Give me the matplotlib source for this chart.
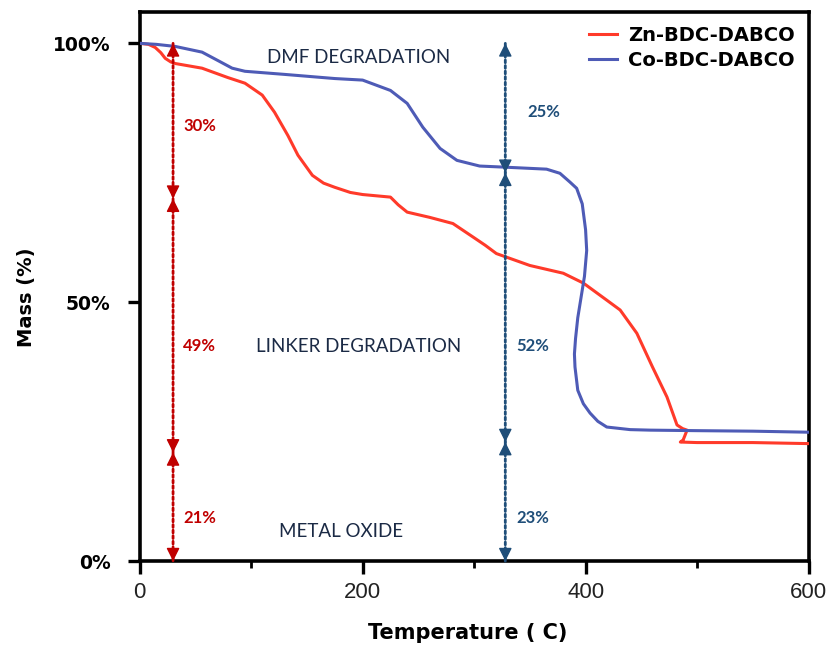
import matplotlib
matplotlib.use("Agg")
import matplotlib.pyplot as plt
from matplotlib.ticker import MultipleLocator

# ---- data ----
zn_temp = [0, 8, 14, 19, 23, 28, 32, 56, 79, 94.5, 110, 121, 133, 142, 155, 165, 175,
           189, 200, 225, 232, 240, 260, 281, 299, 310, 320, 350, 380, 398, 419, 431,
           446, 460, 473, 482, 487, 491, 489, 487.5, 485, 500, 550, 600]
zn_mass = [100, 99.8, 99.2, 98.2, 97.1, 96.4, 96.1, 95.2, 93.4, 92.3, 90, 86.7, 82.2,
           78.4, 74.5, 73, 72.2, 71.2, 70.8, 70.3, 68.8, 67.4, 66.4, 65.2, 62.6, 61,
           59.4, 57.1, 55.6, 53.7, 50.4, 48.5, 44, 37.5, 31.7, 26.3, 25.6, 25.3, 24.2,
           23.4, 23, 22.9, 22.9, 22.7]

co_temp = [0, 15, 32, 56, 70, 83, 94.5, 130, 175, 200, 225, 240, 254, 269.5, 284.6,
           305, 326, 365, 377, 386, 392, 397, 400, 401, 399, 396, 393, 391, 390, 390.5,
           393, 398, 404, 411, 419, 440, 458, 500, 550, 600]
co_mass = [100, 99.8, 99.4, 98.3, 96.7, 95.2, 94.6, 94, 93.2, 92.9, 90.9, 88.4, 83.8,
           79.7, 77.4, 76.3, 76.1, 75.7, 74.9, 73.2, 72, 69, 64, 60, 55, 51, 47, 43, 40,
           37.5, 33, 30.4, 28.6, 27, 25.9, 25.4, 25.3, 25.2, 25.1, 24.9]

series_names = ["Zn-BDC-DABCO", "Co-BDC-DABCO"]

# stage boundaries for the measurement arrows
zn_arrow_x = 30
zn_bounds = [100, 70, 21, 0]
zn_labels = ["30%", "49%", "21%"]
zn_label_y = [84, 41.5, 8.3]
co_arrow_x = 328
co_bounds = [100, 75, 23, 0]
co_labels = ["25%", "52%", "23%"]
co_label_x = [348, 338, 338]
co_label_y = [86.7, 41.5, 8.3]

stage_names = ["DMF DEGRADATION", "LINKER DEGRADATION", "METAL OXIDE"]
stage_x = [196, 196, 181]
stage_y = [97.3, 41.5, 5.8]

x_ticks = [0, 200, 400, 600]
y_ticks = [0, 50, 100]
y_ticklabels = ["0%", "50%", "100%"]

# ---- figure ----
RED = "#FF3A2A"
BLUE = "#4E5BB6"
DARKRED = "#C00000"
DARKBLUE = "#1F4E79"
TXT = "#1B2A45"

fig = plt.figure(figsize=(8.31, 6.45), dpi=100)
ax = fig.add_axes([0.168, 0.130, 0.805, 0.851])

ax.plot(zn_temp, zn_mass, color=RED, lw=2.2, label=series_names[0], zorder=3)
ax.plot(co_temp, co_mass, color=BLUE, lw=2.2, label=series_names[1], zorder=3)

def seg_arrows(x, bounds, color):
    head = "-|>,head_length=0.8,head_width=0.4"
    for hi, lo in zip(bounds[:-1], bounds[1:]):
        # dotted shaft
        ax.annotate("", xy=(x, lo), xytext=(x, hi),
                    arrowprops=dict(arrowstyle="-", linestyle=(0, (1, 1)), lw=2,
                                    color=color, shrinkA=0, shrinkB=0), zorder=4)
        # solid heads at both ends
        ax.annotate("", xy=(x, hi), xytext=(x, hi - 2),
                    arrowprops=dict(arrowstyle=head, lw=1, color=color,
                                    shrinkA=0, shrinkB=0), zorder=5)
        ax.annotate("", xy=(x, lo), xytext=(x, lo + 2),
                    arrowprops=dict(arrowstyle=head, lw=1, color=color,
                                    shrinkA=0, shrinkB=0), zorder=5)

seg_arrows(zn_arrow_x, zn_bounds, DARKRED)
seg_arrows(co_arrow_x, co_bounds, DARKBLUE)

for lab, yy in zip(zn_labels, zn_label_y):
    ax.text(zn_arrow_x + 9, yy, lab, color=DARKRED, fontsize=12, fontweight="bold",
            family="Lato", va="center", ha="left")
for lab, xx, yy in zip(co_labels, co_label_x, co_label_y):
    ax.text(xx, yy, lab, color=DARKBLUE, fontsize=12,
            fontweight="bold", family="Lato", va="center", ha="left")

for name, tx, ty in zip(stage_names, stage_x, stage_y):
    ax.text(tx, ty, name, color=TXT, fontsize=13.5, family="Lato",
            ha="center", va="center")

ax.set_xlim(0, 600)
ax.set_ylim(0, 106)
ax.set_xticks(x_ticks)
ax.xaxis.set_minor_locator(MultipleLocator(100))
ax.set_yticks(y_ticks)
ax.set_yticklabels(y_ticklabels, fontweight="bold", fontsize=13.5)
for t in ax.get_xticklabels():
    t.set_fontsize(16)
    t.set_family("Liberation Sans")
    t.set_color("#222222")

for s in ax.spines.values():
    s.set_linewidth(2.6)
ax.tick_params(axis="both", which="major", width=2.4, length=9, direction="out")
ax.tick_params(axis="x", which="minor", width=2, length=5, direction="out")
ax.tick_params(axis="x", pad=6)
ax.tick_params(axis="y", pad=12)

ax.set_xlabel("Temperature ( C)", fontsize=15, fontweight="bold")
ax.xaxis.set_label_coords(0.49, -0.113)
ax.set_ylabel("Mass (%)", fontsize=14, fontweight="bold")
ax.yaxis.set_label_coords(-0.155, 0.48)

leg = ax.legend(loc="upper right", frameon=False,
                prop=dict(weight="bold", size=14), handlelength=1.4,
                handletextpad=0.6, borderaxespad=0.3, labelspacing=0.3)

fig.savefig("out.png", dpi=100)
